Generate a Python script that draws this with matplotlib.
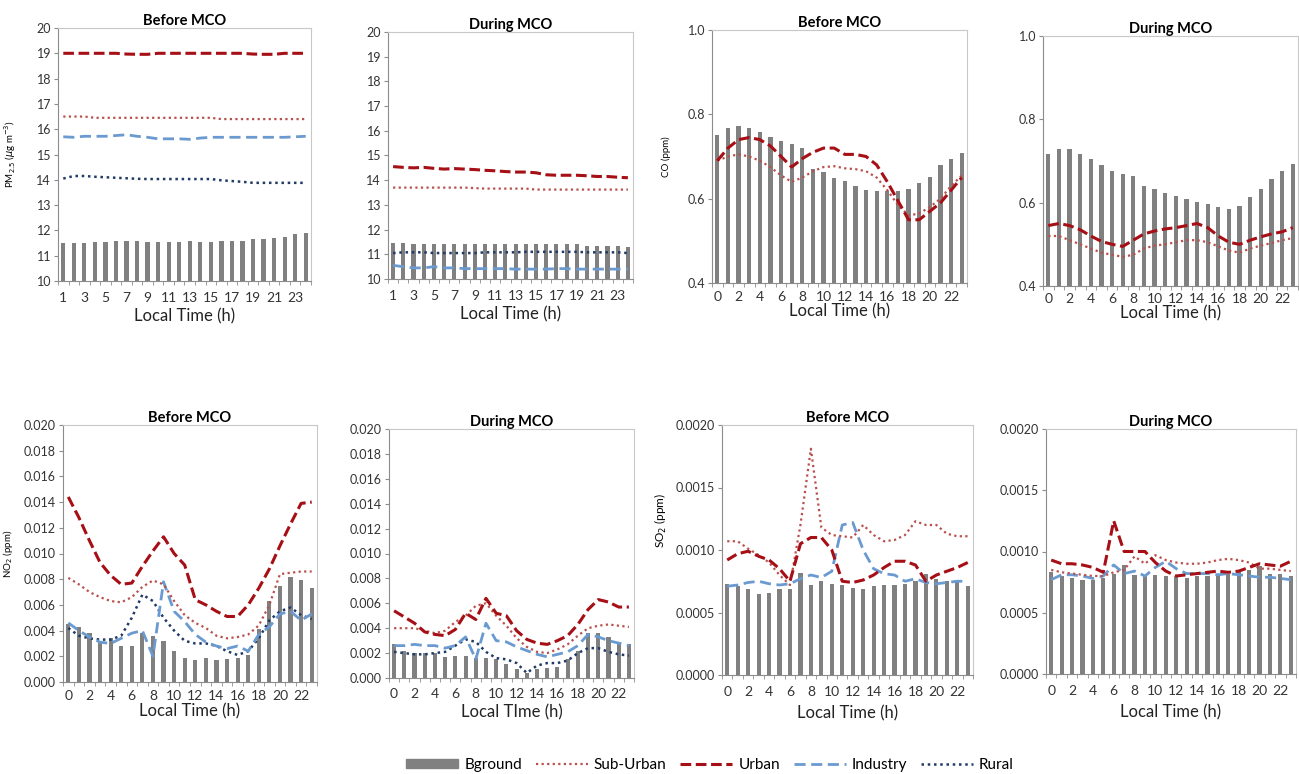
import matplotlib.pyplot as plt
import numpy as np
from matplotlib.patches import Patch
from matplotlib.lines import Line2D

plt.rcParams['font.family'] = ['Lato', 'DejaVu Sans']

# ---- data ----
hours_pm = list(range(1, 25))
hours = list(range(0, 24))

# PM2.5 before MCO
pm_before_bg = [11.5, 11.5, 11.5, 11.55, 11.55, 11.6, 11.6, 11.6, 11.55, 11.55, 11.55, 11.55,
                11.6, 11.55, 11.55, 11.6, 11.6, 11.6, 11.65, 11.65, 11.7, 11.75, 11.85, 11.9]
pm_before_sub = [16.5, 16.5, 16.5, 16.45, 16.45, 16.45, 16.45, 16.45, 16.45, 16.45, 16.45, 16.45,
                 16.45, 16.45, 16.45, 16.4, 16.4, 16.4, 16.4, 16.4, 16.4, 16.4, 16.4, 16.4]
pm_before_urban = [19.0, 19.0, 19.0, 19.0, 19.0, 19.0, 18.97, 18.96, 18.96, 19.0, 19.0, 19.0,
                   19.0, 19.0, 19.0, 19.0, 19.0, 19.0, 18.97, 18.96, 18.96, 19.0, 19.0, 19.0]
pm_before_ind = [15.7, 15.68, 15.72, 15.72, 15.72, 15.75, 15.78, 15.72, 15.68, 15.62, 15.62, 15.62,
                 15.6, 15.65, 15.68, 15.68, 15.68, 15.68, 15.68, 15.68, 15.68, 15.68, 15.7, 15.72]
pm_before_rural = [14.05, 14.15, 14.15, 14.12, 14.1, 14.08, 14.06, 14.04, 14.03, 14.03, 14.03, 14.03,
                   14.03, 14.03, 14.03, 13.98, 13.95, 13.92, 13.88, 13.88, 13.88, 13.88, 13.88, 13.88]

# PM2.5 during MCO
pm_during_bg = [11.45, 11.45, 11.4, 11.4, 11.4, 11.4, 11.4, 11.4, 11.4, 11.4, 11.4, 11.4,
                11.4, 11.4, 11.4, 11.4, 11.4, 11.4, 11.4, 11.35, 11.35, 11.35, 11.35, 11.3]
pm_during_sub = [13.7, 13.7, 13.7, 13.7, 13.7, 13.7, 13.7, 13.7, 13.68, 13.66, 13.66, 13.66,
                 13.66, 13.66, 13.62, 13.62, 13.62, 13.62, 13.62, 13.62, 13.62, 13.62, 13.62, 13.62]
pm_during_urban = [14.55, 14.52, 14.5, 14.52, 14.48, 14.45, 14.47, 14.45, 14.43, 14.4, 14.38, 14.35,
                   14.33, 14.33, 14.3, 14.22, 14.2, 14.2, 14.2, 14.18, 14.15, 14.15, 14.12, 14.1]
pm_during_ind = [10.55, 10.5, 10.45, 10.45, 10.5, 10.45, 10.45, 10.42, 10.42, 10.42, 10.42, 10.42,
                 10.4, 10.4, 10.4, 10.4, 10.42, 10.42, 10.4, 10.4, 10.4, 10.4, 10.4, 10.4]
pm_during_rural = [11.05, 11.08, 11.08, 11.08, 11.05, 11.05, 11.05, 11.05, 11.05, 11.08, 11.08, 11.08,
                   11.08, 11.1, 11.1, 11.1, 11.1, 11.1, 11.1, 11.08, 11.08, 11.08, 11.08, 11.05]

# CO before MCO
co_before_bg = [0.751, 0.767, 0.773, 0.767, 0.757, 0.747, 0.737, 0.730, 0.720, 0.670, 0.663, 0.650,
                0.641, 0.630, 0.621, 0.617, 0.617, 0.617, 0.623, 0.637, 0.651, 0.680, 0.694, 0.709]
co_before_sub = [0.69, 0.70, 0.705, 0.70, 0.69, 0.675, 0.655, 0.64, 0.65, 0.665, 0.675, 0.677,
                 0.672, 0.67, 0.665, 0.65, 0.62, 0.585, 0.56, 0.565, 0.58, 0.60, 0.63, 0.655]
co_before_urban = [0.69, 0.72, 0.74, 0.745, 0.74, 0.725, 0.70, 0.675, 0.695, 0.71, 0.72, 0.72,
                   0.705, 0.705, 0.70, 0.68, 0.64, 0.595, 0.55, 0.55, 0.57, 0.59, 0.62, 0.65]

# CO during MCO
co_during_bg = [0.718, 0.730, 0.728, 0.718, 0.704, 0.690, 0.676, 0.670, 0.664, 0.640, 0.632, 0.624,
                0.617, 0.609, 0.602, 0.597, 0.589, 0.586, 0.593, 0.613, 0.632, 0.656, 0.676, 0.694]
co_during_sub = [0.52, 0.52, 0.51, 0.50, 0.49, 0.48, 0.475, 0.47, 0.475, 0.49, 0.497, 0.50,
                 0.505, 0.51, 0.51, 0.505, 0.495, 0.485, 0.48, 0.49, 0.497, 0.503, 0.51, 0.515]
co_during_urban = [0.545, 0.55, 0.545, 0.535, 0.52, 0.507, 0.50, 0.495, 0.51, 0.525, 0.532, 0.537,
                   0.54, 0.545, 0.55, 0.54, 0.52, 0.505, 0.50, 0.51, 0.518, 0.525, 0.53, 0.54]

# NO2 before MCO
no2_before_bg = [0.0045, 0.0043, 0.0038, 0.0031, 0.0034, 0.0028, 0.0028, 0.0038, 0.0036, 0.0032, 0.0024, 0.0019,
                 0.0017, 0.0019, 0.0017, 0.0018, 0.0019, 0.0021, 0.0041, 0.0063, 0.0075, 0.0082, 0.0079, 0.0073]
no2_before_sub = [0.0081, 0.0076, 0.0070, 0.0066, 0.0063, 0.0062, 0.0066, 0.0074, 0.0079, 0.0076, 0.0063, 0.0052,
                  0.0046, 0.0042, 0.0036, 0.0034, 0.0035, 0.0037, 0.0044, 0.0060, 0.0084, 0.0085, 0.0086, 0.0086]
no2_before_urban = [0.0144, 0.0128, 0.0110, 0.0093, 0.0083, 0.0076, 0.0077, 0.0090, 0.0102, 0.0113, 0.0100, 0.0091,
                    0.0064, 0.0060, 0.0055, 0.0051, 0.0051, 0.0060, 0.0073, 0.0088, 0.0106, 0.0123, 0.0139, 0.0140]
no2_before_ind = [0.0046, 0.0040, 0.0035, 0.0031, 0.0030, 0.0034, 0.0038, 0.0040, 0.0020, 0.0078, 0.0055, 0.0047,
                  0.0037, 0.0031, 0.0028, 0.0026, 0.0028, 0.0024, 0.0037, 0.0043, 0.0053, 0.0055, 0.0048, 0.0053]
no2_before_rural = [0.0042, 0.0036, 0.0034, 0.0033, 0.0033, 0.0036, 0.0050, 0.0068, 0.0063, 0.0050, 0.0040, 0.0032,
                    0.0030, 0.0030, 0.0028, 0.0024, 0.0021, 0.0024, 0.0034, 0.0048, 0.0055, 0.0058, 0.0052, 0.0049]

# NO2 during MCO
no2_during_bg = [0.0027, 0.0022, 0.0020, 0.0020, 0.0020, 0.0017, 0.0018, 0.0018, 0.0016, 0.0016, 0.0015, 0.0011,
                 0.0007, 0.0004, 0.0007, 0.0008, 0.0009, 0.0015, 0.0022, 0.0036, 0.0036, 0.0033, 0.0029, 0.0027]
no2_during_sub = [0.0040, 0.0040, 0.0040, 0.0038, 0.0036, 0.0038, 0.0045, 0.0050, 0.0058, 0.0060, 0.0050, 0.0042,
                  0.0032, 0.0025, 0.0021, 0.0020, 0.0023, 0.0027, 0.0034, 0.0040, 0.0042, 0.0043, 0.0042, 0.0041]
no2_during_urban = [0.0054, 0.0049, 0.0044, 0.0037, 0.0035, 0.0034, 0.0039, 0.0052, 0.0047, 0.0064, 0.0052, 0.0050,
                    0.0038, 0.0031, 0.0028, 0.0027, 0.0030, 0.0034, 0.0043, 0.0055, 0.0063, 0.0061, 0.0057, 0.0057]
no2_during_ind = [0.0026, 0.0026, 0.0027, 0.0026, 0.0026, 0.0024, 0.0026, 0.0033, 0.0015, 0.0044, 0.0030, 0.0029,
                  0.0025, 0.0022, 0.0019, 0.0017, 0.0019, 0.0021, 0.0026, 0.0035, 0.0033, 0.0030, 0.0028, 0.0026]
no2_during_rural = [0.0021, 0.0020, 0.0019, 0.0019, 0.0020, 0.0021, 0.0026, 0.0031, 0.0029, 0.0021, 0.0016, 0.0015,
                    0.0012, 0.0004, 0.0010, 0.0012, 0.0012, 0.0014, 0.0020, 0.0024, 0.0024, 0.0021, 0.0019, 0.0018]

# SO2 before MCO
so2_before_bg = [0.00073, 0.00071, 0.00069, 0.00065, 0.00066, 0.00069, 0.00069, 0.00082, 0.00072, 0.00075, 0.00073, 0.00072,
                 0.00070, 0.00069, 0.00071, 0.00072, 0.00072, 0.00073, 0.00075, 0.00081, 0.00077, 0.00075, 0.00075, 0.00071]
so2_before_sub = [0.00107, 0.00107, 0.00101, 0.00096, 0.00090, 0.00080, 0.00072, 0.00120, 0.00181, 0.00118, 0.00112, 0.00111,
                  0.00110, 0.00120, 0.00112, 0.00107, 0.00108, 0.00112, 0.00123, 0.00120, 0.00120, 0.00113, 0.00111, 0.00111]
so2_before_urban = [0.00092, 0.00097, 0.00099, 0.00095, 0.00092, 0.00085, 0.00075, 0.00105, 0.00110, 0.00110, 0.00100, 0.00075,
                    0.00074, 0.00076, 0.00080, 0.00086, 0.00091, 0.00091, 0.00088, 0.00075, 0.00080, 0.00083, 0.00086, 0.00090]
so2_before_ind = [0.00071, 0.00072, 0.00074, 0.00075, 0.00073, 0.00072, 0.00073, 0.00077, 0.00080, 0.00078, 0.00083, 0.00120,
                  0.00122, 0.00100, 0.00085, 0.00081, 0.00080, 0.00075, 0.00077, 0.00074, 0.00073, 0.00074, 0.00075, 0.00075]

# SO2 during MCO
so2_during_bg = [0.00083, 0.00080, 0.00078, 0.00077, 0.00077, 0.00078, 0.00082, 0.00089, 0.00081, 0.00080, 0.00081, 0.00080,
                 0.00079, 0.00078, 0.00080, 0.00080, 0.00081, 0.00082, 0.00084, 0.00085, 0.00088, 0.00082, 0.00082, 0.00080]
so2_during_sub = [0.00085, 0.00083, 0.00082, 0.00081, 0.00080, 0.00080, 0.00083, 0.00085, 0.00096, 0.00090, 0.00097, 0.00093,
                  0.00091, 0.00090, 0.00090, 0.00091, 0.00093, 0.00094, 0.00093, 0.00091, 0.00086, 0.00086, 0.00085, 0.00084]
so2_during_urban = [0.00093, 0.00090, 0.00090, 0.00089, 0.00087, 0.00083, 0.00125, 0.00100, 0.00100, 0.00100, 0.00091, 0.00084,
                    0.00080, 0.00081, 0.00082, 0.00083, 0.00084, 0.00083, 0.00084, 0.00087, 0.00090, 0.00089, 0.00088, 0.00092]
so2_during_ind = [0.00077, 0.00081, 0.00081, 0.00080, 0.00078, 0.00080, 0.00089, 0.00082, 0.00084, 0.00080, 0.00087, 0.00092,
                  0.00086, 0.00082, 0.00082, 0.00082, 0.00081, 0.00082, 0.00081, 0.00080, 0.00079, 0.00079, 0.00078, 0.00077]

legend_labels = ['Bground', 'Sub-Urban', 'Urban', 'Industry', 'Rural']

# colours
c_bg = '#808080'
c_sub = '#B9504D'
c_urban = '#A50F15'
c_ind = '#6A9AD0'
c_rural = '#1F3B66'
c_axis = '#8C8C8C'

ls_dot = (0, (1, 1.5))
ls_urban = (0, (3.5, 1.5))
ls_ind = (0, (4, 2))

W, H = 1299, 774
fig = plt.figure(figsize=(W / 100, H / 100), dpi=100)


def add_axes(left, right, top, bottom):
    return fig.add_axes([left / W, 1 - bottom / H, (right - left) / W, (bottom - top) / H])


def draw_panel(ax, x, title, bg, sub=None, urban=None, ind=None, rural=None,
               ylim=(0, 1), yticks=None, yfmt='{:.1f}', xlabels=None,
               xlabel='Local Time (h)', xpad=7, labelpad=4):
    ax.bar(x, bg, width=0.4, color=c_bg, zorder=2)
    if rural is not None:
        ax.plot(x, rural, color=c_rural, linestyle=ls_dot, linewidth=1.8, zorder=3)
    if ind is not None:
        ax.plot(x, ind, color=c_ind, linestyle=ls_ind, linewidth=2.0, zorder=3)
    if sub is not None:
        ax.plot(x, sub, color=c_sub, linestyle=ls_dot, linewidth=1.6, zorder=4)
    if urban is not None:
        ax.plot(x, urban, color=c_urban, linestyle=ls_urban, linewidth=2.2, zorder=5)

    ax.set_xlim(x[0] - 0.5, x[-1] + 0.5)
    ax.set_ylim(*ylim)
    ax.set_yticks(yticks)
    ax.set_yticklabels([yfmt.format(v) for v in yticks])
    ax.set_xticks(xlabels)
    ax.set_xticklabels([str(v) for v in xlabels])
    ax.set_xticks(np.arange(x[0] - 0.5, x[-1] + 1.0, 1.0), minor=True)
    ax.tick_params(axis='x', which='major', length=0, labelsize=10, pad=xpad, colors='#333333')
    ax.tick_params(axis='x', which='minor', length=3, color=c_axis)
    ax.tick_params(axis='y', length=3, color=c_axis, labelsize=9, pad=2, labelcolor='#333333')
    for side in ['left', 'bottom']:
        ax.spines[side].set_color(c_axis)
    for side in ['top', 'right']:
        ax.spines[side].set_color('#C8C8C8')
    ax.set_title(title, fontsize=10.5, fontweight='bold', pad=2)
    ax.set_xlabel(xlabel, fontsize=12, labelpad=labelpad, color='#222222')


# PM2.5
ax1 = add_axes(58, 311, 28, 281)
draw_panel(ax1, hours_pm, 'Before MCO', pm_before_bg, pm_before_sub, pm_before_urban,
           pm_before_ind, pm_before_rural, ylim=(10, 20), yticks=list(range(10, 21)),
           yfmt='{:d}', xlabels=list(range(1, 24, 2)), xpad=8, labelpad=3)
ax1.set_ylabel(r'PM$_{2.5}$ ($\mu$g m$^{-3}$)', fontsize=7)
ax1.yaxis.set_label_coords(-0.16, 0.5)

ax2 = add_axes(388, 633, 32, 279)
draw_panel(ax2, hours_pm, 'During MCO', pm_during_bg, pm_during_sub, pm_during_urban,
           pm_during_ind, pm_during_rural, ylim=(10, 20), yticks=list(range(10, 21)),
           yfmt='{:d}', xlabels=list(range(1, 24, 2)), xpad=8, labelpad=3)

# CO
ax3 = add_axes(712, 967, 30, 283)
draw_panel(ax3, hours, 'Before MCO', co_before_bg, co_before_sub, co_before_urban,
           ylim=(0.4, 1.0), yticks=[0.4, 0.6, 0.8, 1.0], yfmt='{:.1f}',
           xlabels=list(range(0, 24, 2)), xpad=6, labelpad=0)
ax3.set_ylabel('CO (ppm)', fontsize=7)
ax3.yaxis.set_label_coords(-0.16, 0.5)

ax4 = add_axes(1043, 1298, 36, 286)
draw_panel(ax4, hours, 'During MCO', co_during_bg, co_during_sub, co_during_urban,
           ylim=(0.4, 1.0), yticks=[0.4, 0.6, 0.8, 1.0], yfmt='{:.1f}',
           xlabels=list(range(0, 24, 2)), xpad=5, labelpad=0)

# NO2
no2_ticks = [i * 0.002 for i in range(11)]
ax5 = add_axes(63, 317, 425, 682)
draw_panel(ax5, hours, 'Before MCO', no2_before_bg, no2_before_sub, no2_before_urban,
           no2_before_ind, no2_before_rural, ylim=(0, 0.02), yticks=no2_ticks, yfmt='{:.3f}',
           xlabels=list(range(0, 24, 2)), xpad=6, labelpad=1)
ax5.set_ylabel(r'NO$_2$ (ppm)', fontsize=7)
ax5.yaxis.set_label_coords(-0.19, 0.5)

ax6 = add_axes(389, 634, 429, 678)
draw_panel(ax6, hours, 'During MCO', no2_during_bg, no2_during_sub, no2_during_urban,
           no2_during_ind, no2_during_rural, ylim=(0, 0.02), yticks=no2_ticks, yfmt='{:.3f}',
           xlabels=list(range(0, 24, 2)), xlabel='Local TIme (h)', xpad=7, labelpad=3)

# SO2
so2_ticks = [0, 0.0005, 0.001, 0.0015, 0.002]
ax7 = add_axes(722, 973, 425, 675)
draw_panel(ax7, hours, 'Before MCO', so2_before_bg, so2_before_sub, so2_before_urban,
           so2_before_ind, ylim=(0, 0.002), yticks=so2_ticks, yfmt='{:.4f}',
           xlabels=list(range(0, 24, 2)), xpad=8, labelpad=5)
ax7.set_ylabel(r'SO$_2$ (ppm)', fontsize=8.5)
ax7.yaxis.set_label_coords(-0.21, 0.62)

ax8 = add_axes(1046, 1296, 429, 674)
draw_panel(ax8, hours, 'During MCO', so2_during_bg, so2_during_sub, so2_during_urban,
           so2_during_ind, ylim=(0, 0.002), yticks=so2_ticks, yfmt='{:.4f}',
           xlabels=list(range(0, 24, 2)), xpad=8, labelpad=5)

# legend
handles = [Patch(color=c_bg),
           Line2D([], [], color=c_sub, linestyle=ls_dot, linewidth=1.6),
           Line2D([], [], color=c_urban, linestyle=ls_urban, linewidth=2.2),
           Line2D([], [], color=c_ind, linestyle=ls_ind, linewidth=2.0),
           Line2D([], [], color=c_rural, linestyle=ls_dot, linewidth=1.8)]
fig.legend(handles, legend_labels, loc='center', bbox_to_anchor=(710 / W, 1 - 765 / H), ncol=5,
           frameon=False, fontsize=11, handlelength=3.4, handleheight=0.6,
           columnspacing=0.9, handletextpad=0.4)

fig.savefig('out.png', dpi=100)
